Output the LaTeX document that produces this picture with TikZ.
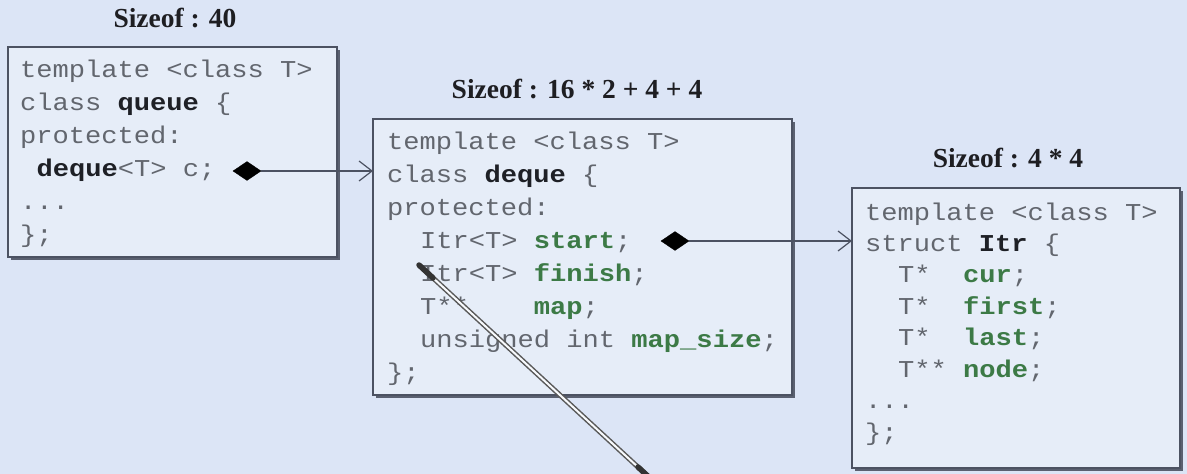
\documentclass[tikz,border=0pt]{standalone}
\usepackage{fontspec}
\setmainfont{Liberation Serif}
\newfontfamily\codefont[FakeStretch=1.12]{Liberation Mono}
\usetikzlibrary{arrows.meta,shapes.geometric,shadows}
\definecolor{bg}{HTML}{DCE5F6}
\definecolor{boxfill}{HTML}{E6EDF8}
\definecolor{boxline}{HTML}{4C5262}
\definecolor{codegray}{HTML}{62666E}
\definecolor{kwc}{HTML}{1E2026}
\definecolor{fldc}{HTML}{3C7A46}
\definecolor{titlec}{HTML}{1E1E22}
\newcommand{\cbold}[1]{\textcolor{kwc}{\bfseries #1}}
\newcommand{\cfield}[1]{\textcolor{fldc}{\bfseries #1}}
\tikzset{
 classbox/.style={draw=boxline, line width=1.3pt, fill=boxfill, inner sep=0pt, outer sep=0pt,
   drop shadow={shadow xshift=2.5pt, shadow yshift=-2.5pt, fill=boxline, opacity=0.9}},
 codeline/.style={anchor=base west, inner sep=0pt, outer sep=0pt, text=codegray,
   font=\codefont\fontsize{24.2}{33}\selectfont},
 sizetitle/.style={anchor=base, inner sep=0pt, text=titlec, font=\bfseries\fontsize{27.5}{32}\selectfont},
 agg/.style={diamond, fill=black, draw=black, inner sep=0pt, minimum width=28pt, minimum height=19pt},
 link/.style={draw=boxline, line width=1.2pt, -{Straight Barb[length=13pt,width=20pt,line width=1.2pt]}},
 stickout/.style={line width=5pt, draw=gray!70!black},
 stickin/.style={line width=2pt, draw=white!80!bg},
 sticktip/.style={line width=5.5pt, draw=black!80, line cap=round},
}
\begin{document}
\begin{tikzpicture}[x=1pt,y=-1pt]
\fill[bg] (0,0) rectangle (1187,474);
\useasboundingbox (0,0) rectangle (1187,474);

% boxes
\node[classbox, minimum width=329pt, minimum height=210pt] (queue) at (172.5,152) {};
\node[classbox, minimum width=419pt, minimum height=276pt] (deque) at (582.5,257) {};
\node[classbox, minimum width=328pt, minimum height=280pt] (itr) at (1016,328) {};

% titles
\node[sizetitle] (t1) at (175,27) {Sizeof : 40};
\node[sizetitle] (t2) at (577,98) {Sizeof : 16 * 2 + 4 + 4};
\node[sizetitle] (t3) at (1008,167) {Sizeof : 4 * 4};

% queue
\node[codeline] (q1) at (20,77) {template <class T>};
\node[codeline] (q2) at (20,110) {class \cbold{queue} \{};
\node[codeline] (q3) at (20,143) {protected:};
\node[codeline] (q4) at (36.5,176) {\cbold{deque}<T> c;};
\node[codeline] (q5) at (20,209) {...};
\node[codeline] (q6) at (20,242) {\};};

% deque
\node[codeline] (d1l) at (387,149) {template <class T>};
\node[codeline] (d2l) at (387,182) {class \cbold{deque} \{};
\node[codeline] (d3l) at (387,215) {protected:};
\node[codeline] (d4l) at (420,248) {Itr<T> \cfield{start};};
\node[codeline] (d5l) at (420,281) {Itr<T> \cfield{finish};};
\node[codeline] (d6l) at (420,314) {T**\ \ \ \ \cfield{map};};
\node[codeline] (d7l) at (420,347) {unsigned int \cfield{map\_size};};
\node[codeline] (d8l) at (387,380) {\};};

% Itr
\node[codeline] (i1) at (865,220) {template <class T>};
\node[codeline] (i2) at (865,251.4) {struct \cbold{Itr} \{};
\node[codeline] (i3) at (898,282.9) {T*\ \ \cfield{cur};};
\node[codeline] (i4) at (898,314.3) {T*\ \ \cfield{first};};
\node[codeline] (i5) at (898,345.7) {T*\ \ \cfield{last};};
\node[codeline] (i6) at (898,377.1) {T**\ \cfield{node};};
\node[codeline] (i7) at (865,408.6) {...};
\node[codeline] (i8) at (865,440) {\};};

% aggregation links
\node[agg] (dia1) at (247,171) {};
\node[agg] (dia2) at (675,241) {};
\draw[link] (dia1.east) -- (dia1.east -| deque.west);
\draw[link] (dia2.east) -- (dia2.east -| itr.west);

% pointer stick
\coordinate (p1) at (419,265);
\coordinate (p1b) at (433,278);
\coordinate (p2) at (652,480);
\coordinate (p2b) at (638,467);
\draw[stickout] (p1) -- (p2);
\draw[stickin] (p1) -- (p2);
\draw[sticktip] (p1) -- (p1b);
\draw[sticktip] (p2b) -- (p2);
\end{tikzpicture}
\end{document}
